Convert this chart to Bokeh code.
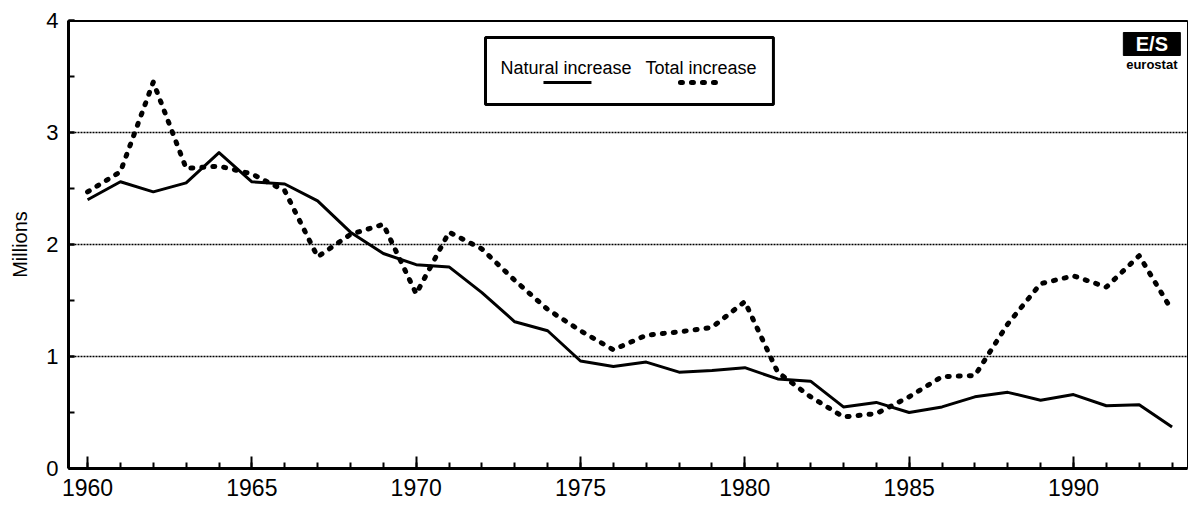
from bokeh.plotting import figure
from bokeh.models import (Range1d, SingleIntervalTicker, FixedTicker, Span,
                          BoxAnnotation, Label, Arrow)
from bokeh.embed import file_html
from bokeh.resources import INLINE

# ---- data (millions) ----
years = list(range(1960, 1994))
natural_increase = [2.40, 2.56, 2.47, 2.55, 2.82, 2.56, 2.54, 2.39, 2.11, 1.92,
                    1.82, 1.80, 1.57, 1.31, 1.23, 0.96, 0.91, 0.95, 0.86, 0.875,
                    0.90, 0.80, 0.78, 0.55, 0.59, 0.50, 0.55, 0.64, 0.68, 0.61,
                    0.66, 0.56, 0.57, 0.37]
total_increase = [2.47, 2.65, 3.45, 2.68, 2.70, 2.63, 2.48, 1.89, 2.09, 2.18,
                  1.56, 2.11, 1.96, 1.68, 1.42, 1.23, 1.06, 1.19, 1.22, 1.26,
                  1.49, 0.86, 0.64, 0.46, 0.49, 0.64, 0.82, 0.83, 1.29, 1.65,
                  1.72, 1.62, 1.90, 1.41]
series_labels = ["Natural increase", "Total increase"]
y_title = "Millions"
grid_values = [1, 2, 3]

FONT = "Liberation Sans"

p = figure(width=1188, height=508, output_backend="svg", toolbar_location=None,
           x_range=Range1d(1959.42, 1993.47), y_range=Range1d(0, 4),
           min_border_left=68, min_border_right=1, min_border_top=20,
           min_border_bottom=40)
p.background_fill_color = "white"
p.border_fill_color = "white"
p.outline_line_color = "black"
p.outline_line_width = 1

# axes
p.xaxis.ticker = SingleIntervalTicker(interval=5, num_minor_ticks=5)
p.yaxis.ticker = SingleIntervalTicker(interval=1, num_minor_ticks=2)
for ax in (p.xaxis[0], p.yaxis[0]):
    ax.axis_line_width = 3
    ax.axis_line_color = "black"
    ax.major_tick_out = 0
    ax.minor_tick_out = 0
    ax.major_tick_line_width = 2
    ax.minor_tick_line_width = 2
    ax.major_tick_line_color = "black"
    ax.minor_tick_line_color = "black"
    ax.major_label_text_font = FONT
    ax.major_label_text_color = "black"
p.xaxis.major_tick_in = 12
p.xaxis.minor_tick_in = 6
p.xaxis.major_label_text_font_size = "23px"
p.xaxis.major_label_standoff = 10
p.yaxis.major_tick_in = 6
p.yaxis.minor_tick_in = 6
p.yaxis.major_label_text_font_size = "22px"
p.yaxis.major_label_standoff = 10
p.yaxis.axis_label = y_title
p.yaxis.axis_label_text_font = FONT
p.yaxis.axis_label_text_font_style = "normal"
p.yaxis.axis_label_text_font_size = "20px"
p.yaxis.axis_label_text_color = "black"
p.yaxis.axis_label_standoff = 12

# grid
p.xgrid.visible = False
p.ygrid.ticker = FixedTicker(ticks=grid_values)
p.ygrid.grid_line_color = "black"
p.ygrid.grid_line_width = 1.3
p.ygrid.grid_line_dash = "2 1"

# top border thick
p.add_layout(Span(location=4, dimension="width", line_color="black", line_width=3))

# series
p.line(years, natural_increase, line_color="black", line_width=3, line_join="round")
p.line(years, total_increase, line_color="black", line_width=5, line_dash="2 9",
       line_cap="round", line_join="round")

# custom legend (label above sample)
def px_x(px):
    return 1960 + (px - 87) / 32.87

def px_y(py):
    return (468 - py) / 112.0

p.add_layout(BoxAnnotation(left=px_x(485), right=px_x(773), top=px_y(37), bottom=px_y(104),
                           fill_color="white", fill_alpha=1, line_color="black",
                           line_alpha=1, line_width=3))
p.add_layout(Label(x=px_x(500), y=px_y(67), text=series_labels[0], text_font=FONT,
                   text_font_size="18px", text_baseline="alphabetic", text_color="black"))
p.add_layout(Label(x=px_x(645), y=px_y(67), text=series_labels[1], text_font=FONT,
                   text_font_size="18px", text_baseline="alphabetic", text_color="black"))
p.add_layout(Arrow(end=None, x_start=px_x(543), x_end=px_x(591), y_start=px_y(82), y_end=px_y(82),
                   line_color="black", line_width=3))
p.add_layout(Arrow(end=None, x_start=px_x(680), x_end=px_x(722), y_start=px_y(82), y_end=px_y(82),
                   line_color="black", line_width=5, line_dash="2 9", line_cap="round"))

# eurostat logo
p.add_layout(BoxAnnotation(left=px_x(1123), right=px_x(1180), top=px_y(32), bottom=px_y(55),
                           fill_color="black", fill_alpha=1, line_color="black",
                           line_alpha=1, line_width=1))
p.add_layout(Label(x=px_x(1151.5), y=px_y(43.5), text="E/S", text_font=FONT,
                   text_font_size="20px", text_font_style="bold", text_color="white",
                   text_align="center", text_baseline="middle"))
p.add_layout(Label(x=px_x(1151.5), y=px_y(56), text="eurostat", text_font=FONT,
                   text_font_size="13px", text_font_style="bold", text_color="black",
                   text_align="center", text_baseline="top"))

open("out.html", "w").write(file_html(p, INLINE))
